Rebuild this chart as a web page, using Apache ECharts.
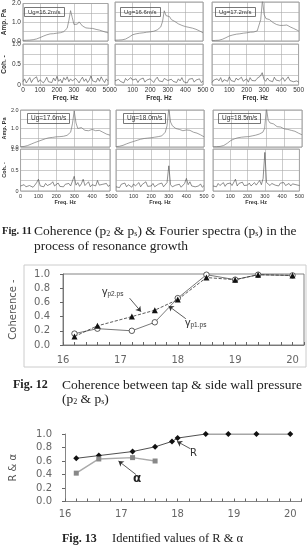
<!DOCTYPE html>
<html>
<head>
<meta charset="utf-8">
<script src="https://cdn.jsdelivr.net/npm/echarts@6/dist/echarts.min.js"></script>
<style>
  html, body { margin: 0; padding: 0; background: #fff; }
  #chart { width: 307px; height: 560px; }
</style>
</head>
<body>
<div id="chart"></div>
<script>
// frequency axis of the spectra (Hz)
const freq = [0,10,20,30,40,50,60,70,80,90,
  100,110,120,130,140,150,160,170,180,190,
  200,210,220,230,240,250,260,270,280,290,
  300,310,320,330,340,350,360,370,380,390,
  400,410,420,430,440,450,460,470,480,490,500];

// Fourier amplitude of ps (Pa), one list per gas velocity
const amp162 = [0.03,0.03,0.04,0.04,0.05,0.06,0.07,0.09,0.11,0.14,
  0.18,0.22,0.26,0.30,0.33,0.36,0.38,0.37,0.39,0.40,
  0.42,0.41,0.44,0.46,0.50,0.56,0.68,1.10,1.62,1.25,
  0.88,0.95,0.90,1.02,0.96,0.80,0.74,0.70,0.72,0.68,
  0.70,0.67,0.66,0.62,0.60,0.58,0.55,0.52,0.50,0.46,0.44];
const amp166 = [0.04,0.04,0.05,0.05,0.06,0.08,0.10,0.14,0.20,0.26,
  0.32,0.35,0.37,0.38,0.40,0.41,0.42,0.43,0.45,0.46,
  0.47,0.49,0.50,0.53,0.57,0.62,0.72,1.00,1.55,1.30,
  1.20,1.25,1.10,1.15,1.00,0.95,0.88,0.82,0.80,0.76,
  0.74,0.72,0.70,0.68,0.66,0.64,0.60,0.55,0.52,0.47,0.42];
const amp172 = [0.02,0.02,0.03,0.03,0.04,0.06,0.09,0.13,0.17,0.21,
  0.26,0.29,0.31,0.33,0.35,0.36,0.37,0.39,0.40,0.41,
  0.42,0.43,0.45,0.44,0.46,0.47,0.52,0.60,1.10,2.10,
  1.35,1.15,1.25,1.10,1.20,0.95,0.90,0.85,0.82,0.80,
  0.86,0.80,0.76,0.82,0.78,0.72,0.70,0.64,0.60,0.55,0.50];
const amp176 = [0.02,0.02,0.03,0.05,0.08,0.12,0.16,0.20,0.24,0.28,
  0.31,0.35,0.38,0.42,0.45,0.48,0.50,0.49,0.52,0.53,
  0.55,0.54,0.56,0.57,0.58,0.60,0.63,0.68,0.80,1.25,
  1.95,1.30,1.00,0.98,1.05,0.95,0.90,0.95,0.88,0.92,
  0.95,0.86,0.88,0.84,0.90,0.85,0.80,0.76,0.70,0.68,0.64];
const amp180 = [0.02,0.03,0.04,0.06,0.09,0.13,0.17,0.20,0.24,0.27,
  0.30,0.33,0.36,0.39,0.42,0.45,0.46,0.47,0.48,0.50,
  0.50,0.52,0.53,0.55,0.56,0.57,0.60,0.66,0.80,1.15,
  2.10,1.35,1.15,1.05,1.00,1.02,0.95,0.92,0.88,0.90,
  0.92,0.88,0.90,0.85,0.80,0.78,0.75,0.70,0.66,0.60,0.55];
const amp185 = [0.01,0.01,0.02,0.02,0.03,0.05,0.08,0.13,0.20,0.28,
  0.35,0.40,0.44,0.47,0.50,0.52,0.53,0.54,0.55,0.56,
  0.56,0.58,0.60,0.62,0.64,0.66,0.70,0.74,0.80,1.00,
  2.10,1.45,1.30,1.20,1.25,1.15,1.10,1.05,1.08,1.00,
  0.98,1.02,0.95,0.92,0.90,0.88,0.85,0.82,0.75,0.70,0.66];

// coherence p2 & ps
const coh162 = [0.08,0.15,0.05,0.12,0.18,0.06,0.14,0.10,0.20,0.07,
  0.13,0.16,0.05,0.11,0.19,0.08,0.12,0.06,0.17,0.10,
  0.21,0.09,0.14,0.05,0.18,0.12,0.20,0.08,0.15,0.10,
  0.07,0.16,0.11,0.05,0.13,0.19,0.09,0.15,0.06,0.12,
  0.22,0.10,0.14,0.07,0.17,0.09,0.20,0.12,0.06,0.15,0.10];
const coh166 = [0.10,0.06,0.14,0.09,0.12,0.05,0.16,0.11,0.07,0.18,
  0.12,0.08,0.15,0.06,0.13,0.10,0.17,0.07,0.12,0.09,
  0.15,0.11,0.06,0.14,0.19,0.10,0.12,0.08,0.16,0.20,
  0.11,0.07,0.14,0.09,0.13,0.06,0.15,0.10,0.18,0.08,
  0.12,0.05,0.14,0.10,0.16,0.07,0.12,0.09,0.15,0.06,0.10];
const coh172 = [0.06,0.12,0.08,0.15,0.10,0.18,0.07,0.13,0.16,0.09,
  0.20,0.11,0.14,0.08,0.17,0.12,0.10,0.19,0.09,0.13,
  0.15,0.07,0.18,0.11,0.14,0.10,0.16,0.12,0.22,0.30,
  0.14,0.09,0.17,0.11,0.15,0.08,0.19,0.12,0.16,0.10,
  0.14,0.18,0.09,0.13,0.20,0.11,0.15,0.08,0.12,0.10,0.07];
const coh176 = [0.12,0.08,0.15,0.10,0.06,0.13,0.17,0.09,0.14,0.20,
  0.28,0.12,0.16,0.10,0.18,0.13,0.09,0.17,0.22,0.12,
  0.15,0.19,0.11,0.14,0.10,0.16,0.13,0.18,0.12,0.15,
  0.35,0.14,0.20,0.11,0.17,0.28,0.13,0.16,0.22,0.10,
  0.15,0.19,0.12,0.25,0.14,0.10,0.16,0.13,0.18,0.11,0.14];
const coh180 = [0.10,0.14,0.08,0.16,0.12,0.19,0.10,0.15,0.13,0.09,
  0.17,0.12,0.14,0.20,0.10,0.16,0.13,0.22,0.11,0.15,
  0.12,0.18,0.10,0.14,0.16,0.12,0.19,0.10,0.13,0.20,
  0.60,0.15,0.10,0.06,0.14,0.11,0.16,0.09,0.13,0.18,
  0.30,0.15,0.22,0.12,0.16,0.10,0.14,0.12,0.17,0.09,0.13];
const coh185 = [0.12,0.16,0.10,0.18,0.13,0.15,0.20,0.11,0.17,0.14,
  0.19,0.13,0.16,0.28,0.12,0.18,0.15,0.21,0.13,0.17,
  0.14,0.19,0.12,0.16,0.20,0.14,0.18,0.25,0.15,0.30,
  0.92,0.20,0.16,0.13,0.18,0.22,0.14,0.17,0.12,0.19,
  0.15,0.20,0.13,0.16,0.18,0.12,0.17,0.14,0.15,0.11,0.13];

// Fig 12 : coherence vs Ug
const ug12 = [16.2, 16.6, 17.2, 17.6, 18.0, 18.5, 19.0, 19.4, 20.0];
const gammaP2 = [0.12, 0.27, 0.40, 0.49, 0.64, 0.95, 0.92, 0.99, 0.98];
const gammaP1 = [0.16, 0.23, 0.20, 0.32, 0.66, 0.99, 0.92, 0.99, 0.98];

// Fig 13 : R & alpha
const ugR = [16.2, 16.6, 17.2, 17.6, 17.9, 18.0, 18.5, 18.9, 19.4, 20.0];
const valR = [0.64, 0.68, 0.74, 0.81, 0.89, 0.94, 1.0, 1.0, 1.0, 1.0];
const ugA = [16.2, 16.6, 17.2, 17.6];
const valA = [0.42, 0.63, 0.65, 0.60];

const sans = 'Liberation Sans';
const serif = 'Liberation Serif';

// panel layout of Fig 11
const rows = [
  { ampTop: 2, ampH: 39, cohTop: 44, cohH: 41, font: 6.5, nameGap: 10, boxTop: 7, boxFont: 6 },
  { ampTop: 110, ampH: 37, cohTop: 149, cohH: 42, font: 5.5, nameGap: 8, boxTop: 113, boxFont: 6.5 }
];
const panels = [
  { label: 'Ug=16.2m/s', amp: amp162, coh: coh162, row: 0, col: 0, left: 20, width: 88, boxLeft: 24 },
  { label: 'Ug=16.6m/s', amp: amp166, coh: coh166, row: 0, col: 1, left: 115, width: 88, boxLeft: 120 },
  { label: 'Ug=17.2m/s', amp: amp172, coh: coh172, row: 0, col: 2, left: 212, width: 87, boxLeft: 215 },
  { label: 'Ug=17.6m/s', amp: amp176, coh: coh176, row: 1, col: 0, left: 20, width: 90, boxLeft: 27 },
  { label: 'Ug=18.0m/s', amp: amp180, coh: coh180, row: 1, col: 1, left: 116, width: 88, boxLeft: 123 },
  { label: 'Ug=18.5m/s', amp: amp185, coh: coh185, row: 1, col: 2, left: 213, width: 89, boxLeft: 218 }
];

let grid = [], xAxis = [], yAxis = [], series = [], title = [];
const split = { show: true, lineStyle: { color: '#aaa', width: 0.6 } };

panels.forEach(p => {
  const r = rows[p.row];
  const first = p.col === 0;
  const g = grid.length;
  grid.push({ left: p.left, top: r.ampTop, width: p.width, height: r.ampH, show: true, borderColor: '#888', borderWidth: 0.8 });
  grid.push({ left: p.left, top: r.cohTop, width: p.width, height: r.cohH, show: true, borderColor: '#888', borderWidth: 0.8 });

  xAxis.push({ type: 'value', gridIndex: g, min: 0, max: 500, interval: 100,
    axisLine: { show: false }, axisTick: { show: false }, axisLabel: { show: false }, splitLine: split });
  xAxis.push({ type: 'value', gridIndex: g + 1, min: 0, max: 500, interval: 100,
    axisLine: { show: false }, axisTick: { show: false }, splitLine: split,
    axisLabel: { fontSize: r.font, color: '#333', margin: 2, fontFamily: sans },
    name: 'Freq. Hz', nameLocation: 'middle', nameGap: r.nameGap,
    nameTextStyle: { fontSize: r.font, fontWeight: 'bold', color: '#333', fontFamily: sans } });

  yAxis.push({ type: 'value', gridIndex: g, min: 0, max: 2, interval: 0.5,
    axisLine: { show: false }, axisTick: { show: false }, splitLine: split,
    axisLabel: { show: first, fontSize: r.font, color: '#333', margin: 2, fontFamily: sans,
      formatter: v => (v % 1 === 0 ? v.toFixed(1) : '') },
    name: first ? 'Amp. Pa' : '', nameLocation: 'middle', nameGap: 12,
    nameTextStyle: { fontSize: r.font, fontWeight: 'bold', color: '#333', fontFamily: sans } });
  yAxis.push({ type: 'value', gridIndex: g + 1, min: 0, max: 1, interval: 0.25,
    axisLine: { show: false }, axisTick: { show: false }, splitLine: split,
    axisLabel: { show: first, fontSize: r.font, color: '#333', margin: 2, fontFamily: sans,
      formatter: v => (v === 1 ? '1.0' : v === 0.5 ? '0.5' : v === 0 ? '0' : '') },
    name: first ? 'Coh. -' : '', nameLocation: 'middle', nameGap: 12,
    nameTextStyle: { fontSize: r.font, fontWeight: 'bold', color: '#333', fontFamily: sans } });

  series.push({ type: 'line', xAxisIndex: g, yAxisIndex: g, showSymbol: false, silent: true,
    data: freq.map((f, i) => [f, p.amp[i]]), lineStyle: { color: '#777', width: 0.7 } });
  series.push({ type: 'line', xAxisIndex: g + 1, yAxisIndex: g + 1, showSymbol: false, silent: true,
    data: freq.map((f, i) => [f, p.coh[i]]), lineStyle: { color: '#444', width: 0.6 } });

  title.push({ text: p.label, left: p.boxLeft, top: r.boxTop, borderColor: '#555', borderWidth: 0.8,
    padding: [2, 4], textStyle: { fontSize: r.boxFont, fontWeight: 'normal', color: '#333', fontFamily: sans } });
});

// Fig 12 and Fig 13 share the Ug axis look
const ugLabel = v => (Number.isInteger(v) ? String(v) : '');
function ugAxis(gi, margin) {
  return { type: 'value', gridIndex: gi, min: 16, max: 20.2, interval: 1,
    axisLine: { lineStyle: { color: '#666', width: 0.8 } },
    axisTick: { inside: true, length: 3, lineStyle: { color: '#666' } },
    minorTick: { show: true, splitNumber: 5, length: 3, lineStyle: { color: '#666' } },
    axisLabel: { margin, fontSize: 10, color: '#666', fontFamily: 'DejaVu Sans', formatter: ugLabel },
    splitLine: { show: false } };
}
function fracAxis(gi, name, nameGap) {
  return { type: 'value', gridIndex: gi, min: 0, max: 1, interval: 0.2,
    axisLine: { show: true, lineStyle: { color: '#666', width: 0.8 } },
    axisTick: { show: true, length: 3, lineStyle: { color: '#666' } },
    axisLabel: { margin: 13, fontSize: 10, color: '#666', fontFamily: 'DejaVu Sans', formatter: v => v.toFixed(1) },
    splitLine: { show: false },
    name, nameLocation: 'middle', nameGap,
    nameTextStyle: { fontSize: 10, color: '#555', fontFamily: 'DejaVu Sans' } };
}

const g12 = grid.length;
grid.push({ left: 56, top: 274, width: 248, height: 71, show: true, borderColor: '#666', borderWidth: 0.8 });
xAxis.push(ugAxis(g12, 10));
yAxis.push(fracAxis(g12, 'Coherence -', 45));

const arrow = (from, to) => ({
  silent: true, symbol: ['none', 'arrow'], symbolSize: 5, label: { show: false },
  lineStyle: { color: '#333', width: 0.8, type: 'solid' },
  data: [[{ coord: from }, { coord: to }]]
});

series.push({ type: 'line', xAxisIndex: g12, yAxisIndex: g12, silent: true,
  data: ug12.map((u, i) => [u, gammaP1[i]]), symbol: 'circle', symbolSize: 5.5,
  itemStyle: { color: '#fff', borderColor: '#333', borderWidth: 0.8 },
  lineStyle: { color: '#555', width: 0.8 },
  markLine: arrow([18.14, 0.37], [17.84, 0.55]) });
series.push({ type: 'line', xAxisIndex: g12, yAxisIndex: g12, silent: true,
  data: ug12.map((u, i) => [u, gammaP2[i]]), symbol: 'triangle', symbolSize: 6,
  itemStyle: { color: '#111' },
  lineStyle: { color: '#333', width: 0.8, type: 'dashed' },
  markLine: arrow([17.16, 0.66], [17.36, 0.47]) });

const g13 = grid.length;
grid.push({ left: 59, top: 434, width: 242.5, height: 67.5 });
xAxis.push(ugAxis(g13, 8));
yAxis.push(fracAxis(g13, 'R & α', 47));

series.push({ type: 'line', xAxisIndex: g13, yAxisIndex: g13, silent: true,
  data: ugR.map((u, i) => [u, valR[i]]), symbol: 'diamond', symbolSize: 6,
  itemStyle: { color: '#111' }, lineStyle: { color: '#222', width: 0.8 },
  markLine: arrow([18.23, 0.78], [17.99, 0.89]) });
series.push({ type: 'line', xAxisIndex: g13, yAxisIndex: g13, silent: true,
  data: ugA.map((u, i) => [u, valA[i]]), symbol: 'rect', symbolSize: 5,
  itemStyle: { color: '#888' }, lineStyle: { color: '#aaa', width: 1.5 },
  markLine: arrow([17.26, 0.40], [16.95, 0.60]) });

const subRich = { s: { fontSize: 8, fontFamily: serif, fill: '#222', verticalAlign: 'bottom' } };
function txt(x, y, text, font, extra) {
  return { type: 'text', x, y, silent: true,
    style: Object.assign({ text, font, fill: '#222', verticalAlign: 'middle' }, extra || {}) };
}
const body = '13.5px "Liberation Serif"';

const graphic = [
  { type: 'rect', silent: true, z: -1, shape: { x: 24, y: 265, width: 282, height: 102 },
    style: { fill: 'none', stroke: '#ccc', lineWidth: 1 } },
  // Fig 11 caption
  txt(2, 231, 'Fig. 11', 'bold 10.5px "Liberation Serif"'),
  txt(34, 231, 'Coherence (p{s|2} & p{s|s}) & Fourier spectra (p{s|s}) in the', body, { rich: subRich }),
  txt(34, 246, 'process of resonance growth', body),
  // Fig 12 caption
  txt(13, 385, 'Fig. 12', 'bold 12px "Liberation Serif"'),
  txt(62, 385, 'Coherence between tap & side wall pressure', body),
  txt(62, 399, '(p{s|2} & p{s|s})', body, { rich: subRich }),
  // Fig 13 caption
  txt(62, 539, 'Fig. 13', 'bold 12px "Liberation Serif"'),
  txt(112, 539, 'Identified values of R & α', '12.5px "Liberation Serif"'),
  // annotations
  txt(102, 292, '{g|γ}{t|p2.ps}', '10px "DejaVu Sans"', { rich: { g: { fontSize: 11, fill: '#333' }, t: { fontSize: 6.5, fill: '#333', verticalAlign: 'bottom' } } }),
  txt(185, 323, '{g|γ}{t|p1.ps}', '10px "DejaVu Sans"', { rich: { g: { fontSize: 11, fill: '#333' }, t: { fontSize: 6.5, fill: '#333', verticalAlign: 'bottom' } } }),
  txt(190, 453, 'R', '10px "DejaVu Sans"', { fill: '#333' }),
  txt(133, 479, 'α', 'bold 12px "DejaVu Sans"', { fill: '#222' })
];

const chart = echarts.init(document.getElementById('chart'));
chart.setOption({
  animation: false,
  backgroundColor: '#fff',
  title, grid, xAxis, yAxis, series, graphic
});
</script>
</body>
</html>
